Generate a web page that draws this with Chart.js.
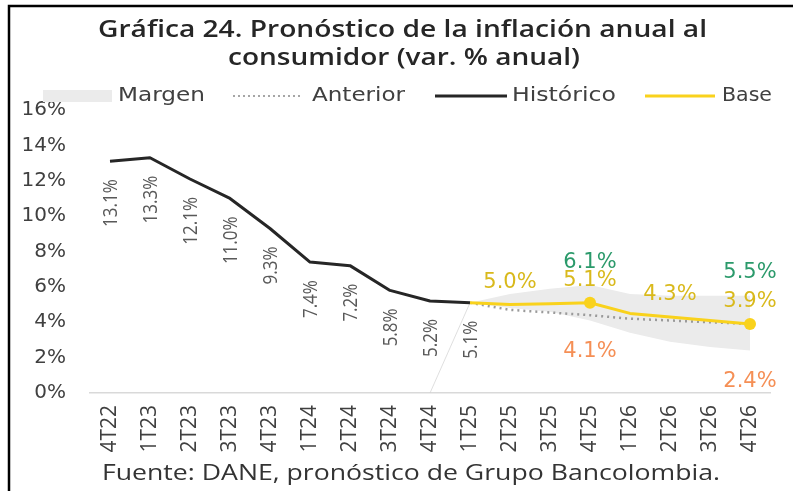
<!DOCTYPE html>
<html>
<head>
<meta charset="utf-8">
<script src="https://cdn.jsdelivr.net/npm/chart.js@4.4.0/dist/chart.umd.min.js"></script>
<style>
  html, body { margin: 0; background: #fff; }
  #wrap { width: 793px; height: 491px; }
</style>
</head>
<body>
<div id="wrap"><canvas id="inflChart" width="793" height="491"></canvas></div>
<script>
// Datos
const quarters = ["4T22", "1T23", "2T23", "3T23", "4T23", "1T24", "2T24", "3T24", "4T24",
  "1T25", "2T25", "3T25", "4T25", "1T26", "2T26", "3T26", "4T26"];
const historico = [13.1, 13.3, 12.1, 11.0, 9.3, 7.4, 7.2, 5.8, 5.2, 5.1,
  null, null, null, null, null, null, null];
const base = [null, null, null, null, null, null, null, null, null,
  5.1, 5.0, 5.05, 5.1, 4.5, 4.3, 4.1, 3.9];
const anterior = [null, null, null, null, null, null, null, null, null,
  5.1, 4.7, 4.55, 4.4, 4.2, 4.1, 4.0, 3.9];
const margenAlto = [null, null, null, null, null, null, null, null, null,
  5.1, 5.6, 5.9, 6.1, 5.6, 5.5, 5.5, 5.5];
const margenBajo = [null, null, null, null, null, null, null, null, 0,
  5.1, 4.8, 4.6, 4.1, 3.4, 2.9, 2.6, 2.4];
const yTicks = [0, 2, 4, 6, 8, 10, 12, 14, 16];

// qué puntos llevan etiqueta
const histLabelIdx = [0, 1, 2, 3, 4, 5, 6, 7, 8, 9];
const baseLabelIdx = [10, 12, 14, 16];
const baseDotIdx = [12, 16];
const margenLabelIdx = [12, 16];

const titleLines = ["Gráfica 24. Pronóstico de la inflación anual al", "consumidor (var. % anual)"];
const sourceNote = "Fuente: DANE, pronóstico de Grupo Bancolombia.";

const YELLOW = "#f9d21c";
const YELLOW_TXT = "#d9b91c";
const GREEN = "#2b9a6b";
const ORANGE = "#f58f55";
const DARK = "#262626";

// texto estirado horizontalmente hasta un ancho dado
function fitText(ctx, text, x, y, width, font, color) {
  ctx.save();
  ctx.font = font;
  ctx.fillStyle = color;
  ctx.textAlign = "left";
  ctx.textBaseline = "middle";
  const w = ctx.measureText(text).width;
  ctx.translate(x, y);
  ctx.scale(width / w, 1);
  ctx.fillText(text, 0, 0);
  ctx.restore();
}

function legendLine(ctx, x1, x2, y, color, width, dash) {
  ctx.save();
  ctx.strokeStyle = color;
  ctx.lineWidth = width;
  ctx.setLineDash(dash || []);
  ctx.beginPath();
  ctx.moveTo(x1, y);
  ctx.lineTo(x2, y);
  ctx.stroke();
  ctx.restore();
}

const decorPlugin = {
  id: "decor",
  afterDatasetsDraw(chart) {
    const ctx = chart.ctx;
    const xs = chart.scales.x;
    const ys = chart.scales.y;

    // etiquetas del histórico, giradas
    ctx.save();
    ctx.font = '17px "Open Sans"';
    ctx.fillStyle = "#595959";
    histLabelIdx.forEach((i) => {
      const x = xs.getPixelForValue(i);
      const y = ys.getPixelForValue(historico[i]);
      ctx.save();
      ctx.translate(x + 1, y + 18);
      ctx.rotate(-Math.PI / 2);
      ctx.scale(1, 1.2);
      ctx.textAlign = "right";
      ctx.textBaseline = "middle";
      ctx.fillText(historico[i].toFixed(1) + "%", 0, 0);
      ctx.restore();
    });
    ctx.restore();

    // etiquetas del pronóstico
    ctx.save();
    ctx.font = '21px "DejaVu Sans"';
    ctx.textAlign = "center";
    ctx.textBaseline = "middle";
    baseLabelIdx.forEach((i) => {
      ctx.fillStyle = YELLOW_TXT;
      ctx.fillText(base[i].toFixed(1) + "%", xs.getPixelForValue(i), ys.getPixelForValue(base[i]) - 22);
    });
    margenLabelIdx.forEach((i) => {
      const x = xs.getPixelForValue(i);
      ctx.fillStyle = GREEN;
      ctx.fillText(margenAlto[i].toFixed(1) + "%", x, ys.getPixelForValue(margenAlto[i]) - 23);
      ctx.fillStyle = ORANGE;
      ctx.fillText(margenBajo[i].toFixed(1) + "%", x, ys.getPixelForValue(margenBajo[i]) + 31);
    });
    ctx.restore();
  },
  afterDraw(chart) {
    const ctx = chart.ctx;

    // título
    fitText(ctx, titleLines[0], 98, 30, 609, '600 23px "Open Sans"', "#262626");
    fitText(ctx, titleLines[1], 228, 58, 352, '600 23px "Open Sans"', "#262626");

    // leyenda
    const legendFont = '19px "DejaVu Sans"';
    const y = 96;
    ctx.save();
    ctx.fillStyle = "#ebebeb";
    ctx.fillRect(43, 90, 69, 12);
    ctx.restore();
    fitText(ctx, "Margen", 118, y, 87, legendFont, "#404040");
    legendLine(ctx, 233, 303, y, "#a6a6a6", 2, [2, 3]);
    fitText(ctx, "Anterior", 312, y, 93, legendFont, "#404040");
    legendLine(ctx, 435, 507, y, DARK, 3);
    fitText(ctx, "Histórico", 512, y, 104, legendFont, "#404040");
    legendLine(ctx, 645, 715, y, YELLOW, 3);
    fitText(ctx, "Base", 722, y, 50, legendFont, "#404040");

    // fuente
    fitText(ctx, sourceNote, 102, 474, 618, '21px "Open Sans"', "#333333");

    // marco
    ctx.save();
    ctx.strokeStyle = "#000";
    ctx.lineWidth = 2.5;
    ctx.beginPath();
    ctx.moveTo(9, 491);
    ctx.lineTo(9, 6);
    ctx.lineTo(793, 6);
    ctx.stroke();
    ctx.restore();
  },
};

function drawChart() {
  const ctx = document.getElementById("inflChart").getContext("2d");
  new Chart(ctx, {
    type: "line",
    data: {
      labels: quarters,
      datasets: [
        {
          label: "Margen",
          data: margenAlto,
          borderWidth: 0,
          borderColor: "transparent",
          backgroundColor: "#ebebeb",
          pointRadius: 0,
          fill: "+1",
          order: 4,
        },
        {
          label: "Margen (inferior)",
          data: margenBajo,
          borderWidth: 1,
          borderColor: "transparent",
          segment: {
            borderColor: (c) => (c.p0DataIndex === 8 ? "rgba(210,210,210,0.7)" : "transparent"),
          },
          pointRadius: 0,
          fill: false,
          order: 5,
        },
        {
          label: "Anterior",
          data: anterior,
          borderColor: "#9a9a9a",
          borderWidth: 2.5,
          borderDash: [2, 4],
          pointRadius: 0,
          fill: false,
          order: 2,
        },
        {
          label: "Histórico",
          data: historico,
          borderColor: DARK,
          borderWidth: 3,
          borderJoinStyle: "round",
          pointRadius: 0,
          fill: false,
          order: 1,
        },
        {
          label: "Base",
          data: base,
          borderColor: YELLOW,
          backgroundColor: YELLOW,
          borderWidth: 3,
          borderJoinStyle: "round",
          pointRadius: (c) => (baseDotIdx.includes(c.dataIndex) ? 6 : 0),
          pointBorderWidth: 0,
          fill: false,
          order: 0,
        },
      ],
    },
    options: {
      responsive: false,
      animation: false,
      layout: { padding: { top: 110, left: 12, right: 23, bottom: 0 } },
      plugins: {
        legend: { display: false },
        tooltip: { enabled: false },
        filler: { drawTime: "beforeDatasetsDraw" },
        title: { display: false },
      },
      scales: {
        x: {
          offset: true,
          grid: { display: false, drawTicks: false },
          border: { display: true, color: "#d9d9d9", width: 1.5 },
          afterFit: (s) => { s.height = 98; },
          ticks: {
            minRotation: 90,
            maxRotation: 90,
            padding: 12,
            color: "#404040",
            font: { family: "Open Sans", size: 21 },
          },
        },
        y: {
          min: 0,
          max: 16,
          grid: { display: false, drawTicks: false },
          border: { display: false },
          afterBuildTicks: (s) => { s.ticks = yTicks.map((v) => ({ value: v })); },
          afterFit: (s) => { s.width = 78; },
          ticks: {
            padding: 24,
            color: "#404040",
            font: { family: "DejaVu Sans", size: 20 },
            callback: (v) => v + "%",
          },
        },
      },
    },
    plugins: [decorPlugin],
  });
}

Promise.all([
  document.fonts.load('19px "Open Sans"'),
  document.fonts.load('600 24px "Open Sans"'),
  document.fonts.load('19px "DejaVu Sans"'),
]).then(drawChart, drawChart);
</script>
</body>
</html>
